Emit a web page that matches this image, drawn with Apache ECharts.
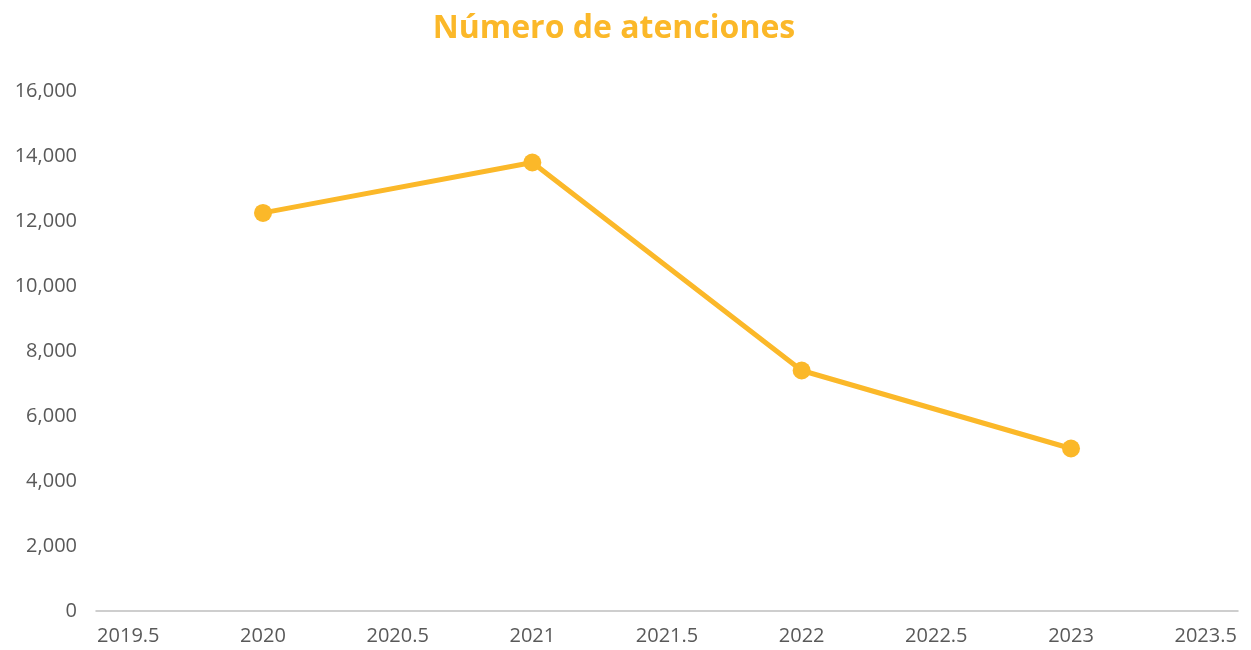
<!DOCTYPE html>
<html>
<head>
<meta charset="utf-8">
<script src="https://cdn.jsdelivr.net/npm/echarts@6/dist/echarts.min.js"></script>
<style>
  html, body { margin: 0; padding: 0; background: #fff; }
  #chart { width: 1251px; height: 650px; }
</style>
</head>
<body>
<div id="chart"></div>
<script>
// datos
const years = [2020, 2021, 2022, 2023];
const atenciones = [12250, 13800, 7400, 5000];
const xTicks = [2019.5, 2020, 2020.5, 2021, 2021.5, 2022, 2022.5, 2023, 2023.5];
const yTicks = [0, 2000, 4000, 6000, 8000, 10000, 12000, 14000, 16000];

const color = '#FBB829';
const chart = echarts.init(document.getElementById('chart'));

chart.setOption({
    animation: false,
    title: {
        text: 'Número de atenciones',
        left: 609,
        top: 8,
        textAlign: 'center',
        textStyle: { color: color, fontFamily: 'Open Sans', fontWeight: 'bold', fontSize: 32 }
    },
    grid: { left: 96, right: 13, top: 91, bottom: 39 },
    xAxis: {
        type: 'value',
        min: 2019.38,
        max: 2023.62,
        splitLine: { show: false },
        axisTick: { show: false },
        axisLine: { lineStyle: { color: '#BFBFBF', width: 1.5 } },
        axisLabel: {
            customValues: xTicks,
            color: '#595959',
            fontFamily: 'Open Sans',
            fontSize: 20,
            margin: 15,
            formatter: v => String(v)
        }
    },
    yAxis: {
        type: 'value',
        min: 0,
        max: 16000,
        interval: 2000,
        splitLine: { show: false },
        axisLine: { show: false },
        axisTick: { show: false },
        axisLabel: {
            customValues: yTicks,
            color: '#595959',
            fontFamily: 'Open Sans',
            fontSize: 20,
            margin: 19,
            formatter: v => v.toLocaleString('en-US')
        }
    },
    series: [{
        type: 'line',
        data: years.map((y, i) => [y, atenciones[i]]),
        symbol: 'circle',
        symbolSize: 18,
        lineStyle: { color: color, width: 5 },
        itemStyle: { color: color }
    }]
});
</script>
</body>
</html>
